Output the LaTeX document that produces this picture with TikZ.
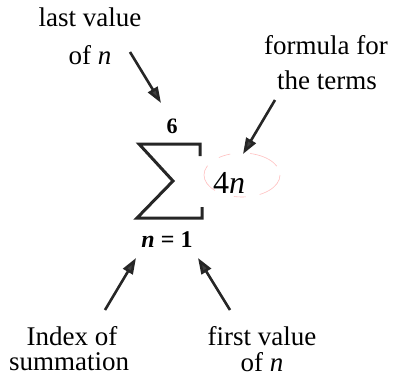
\documentclass[tikz,border=0pt]{standalone}
\usepackage{fontspec}
\setmainfont{Liberation Serif}
\usetikzlibrary{arrows.meta}
\begin{document}
\begin{tikzpicture}[x=1pt,y=-1pt,
  lbl/.style={font=\fontsize{27}{27}\selectfont, align=center, inner sep=0pt},
  arr/.style={line width=2.6pt, -{Triangle[length=16pt,width=11pt,fill=black!75]}, draw=black!85},
  sig/.style={line width=3pt, line join=miter, black!85}]
\useasboundingbox (0,0) rectangle (394,383);
% labels
\node[lbl] (last) at (90,17) {last value};
\node[lbl] (lastn) at (90,55) {of \textit{n}};
\node[lbl] (form) at (326,45) {formula for};
\node[lbl] (terms) at (327,80) {the terms};
\node[lbl] (index) at (72,336) {Index of};
\node[lbl] (summ) at (69,362) {summation};
\node[lbl] (first) at (262,336) {first value};
\node[lbl] (firstn) at (262,362) {of \textit{n}};
% sum parts
\node[inner sep=0pt, font=\fontsize{22}{22}\selectfont\bfseries] (six) at (172,126) {6};
\node[inner sep=0pt, font=\fontsize{24}{24}\selectfont\bfseries] (low) at (167,240) {\textit{n} = 1};
\node[inner sep=0pt, font=\fontsize{32}{32}\selectfont] (term) at (229,183) {4\textit{n}};
\draw[sig] (200,156) -- (200,144) -- (139,144) -- (173,181) -- (137,218) -- (202,218) -- (202,207);
% faint pink mark
\draw[red!25, line width=0.6pt, dash pattern=on 30pt off 14pt on 12pt off 20pt] (242,175) ellipse [x radius=38, y radius=22];
% arrows
\coordinate (a1s) at (130,52);  \coordinate (a1e) at (161,103);
\coordinate (a2s) at (275,100); \coordinate (a2e) at (243,154);
\coordinate (a3s) at (105,310); \coordinate (a3e) at (136,258);
\coordinate (a4s) at (230,310); \coordinate (a4e) at (198,258);
\draw[arr] (a1s) -- (a1e);
\draw[arr] (a2s) -- (a2e);
\draw[arr] (a3s) -- (a3e);
\draw[arr] (a4s) -- (a4e);
\end{tikzpicture}
\end{document}
